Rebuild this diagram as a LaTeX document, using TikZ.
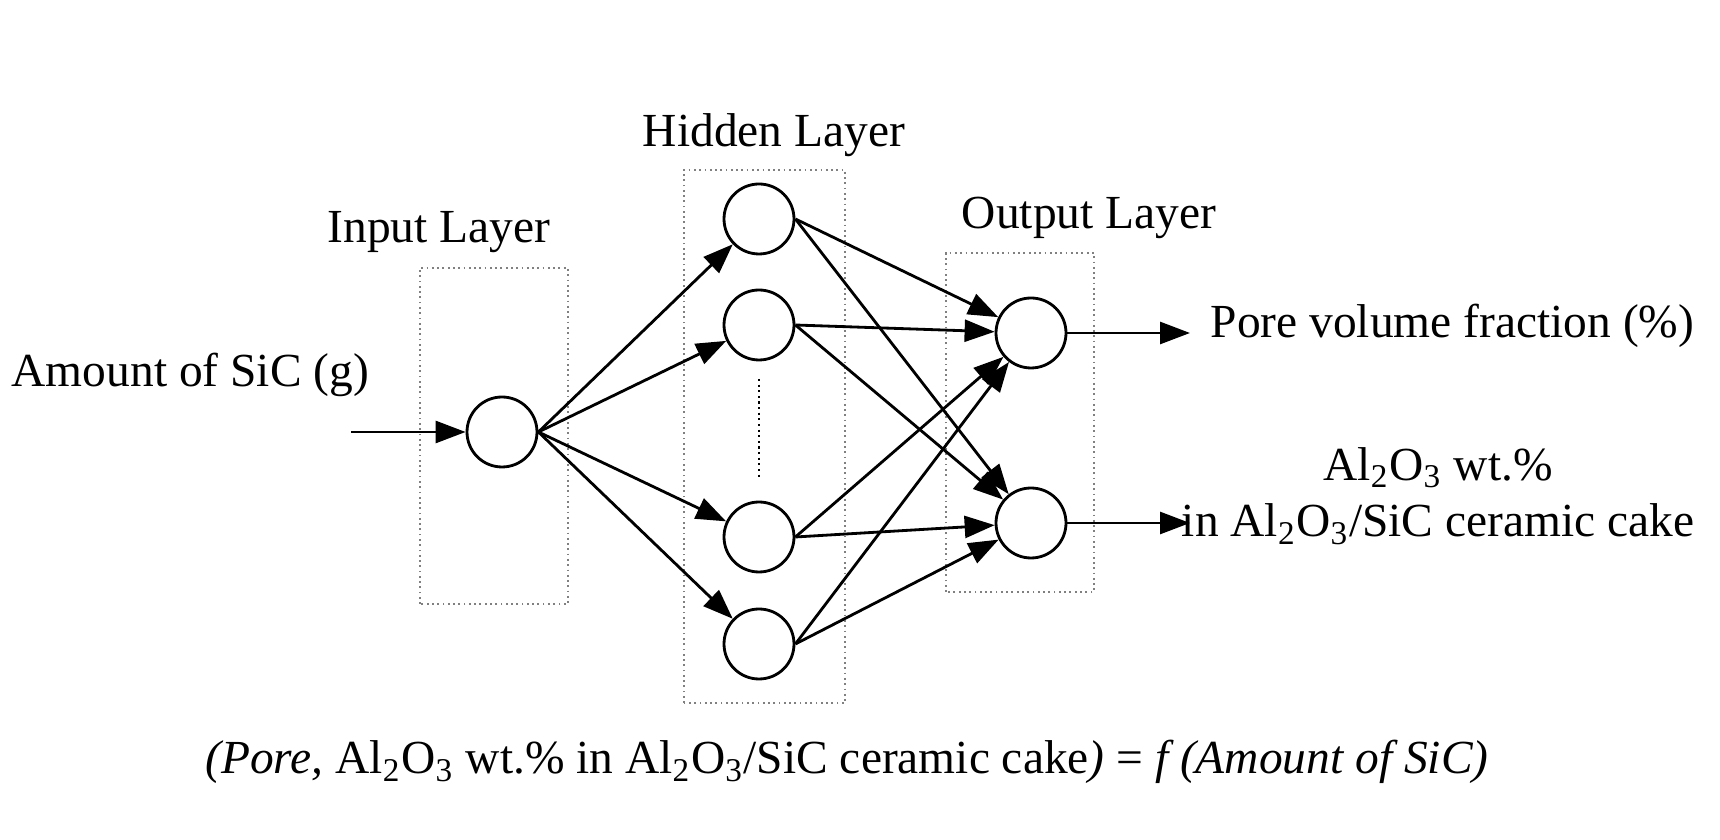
\documentclass[tikz,border=0pt]{standalone}
\usepackage{fontspec}
\setmainfont{Liberation Serif}
\usetikzlibrary{arrows.meta}

\begin{document}
\begin{tikzpicture}[
    font=\fontsize{13.5}{16}\selectfont,
    neuron/.style={circle, draw, line width=0.8pt, minimum size=0.7cm, inner sep=0pt},
    layerbox/.style={draw=gray, densely dotted, line width=0.5pt},
    link/.style={line width=0.8pt, -{Triangle[length=0.3cm,width=0.22cm]}}]

\useasboundingbox (0,0) rectangle (17.2,8.4);

% layer boxes
\draw[layerbox] (4.20,2.36) rectangle (5.68,5.72);
\draw[layerbox] (6.84,1.37) rectangle (8.45,6.70);
\draw[layerbox] (9.46,2.48) rectangle (10.94,5.87);

\node at (4.39,6.08) (inlabel) {Input Layer};
\node at (7.74,7.05) (hidlabel) {Hidden Layer};
\node at (10.89,6.22) (outlabel) {Output Layer};

% neurons
\node[neuron] (in) at (5.02,4.08) {};

\node[neuron] (h1) at (7.59,6.21) {};
\node[neuron] (h2) at (7.59,5.15) {};
\node[neuron] (h3) at (7.59,3.03) {};
\node[neuron] (h4) at (7.59,1.96) {};

\node[neuron] (o1) at (10.31,5.07) {};
\node[neuron] (o2) at (10.31,3.17) {};

\draw[densely dotted, line width=0.6pt] (7.59,4.61) -- (7.59,3.61);

% input
\coordinate (src) at (3.51,4.08);
\node[anchor=west, inner sep=0pt] (xin) at (0.11,4.65) {Amount of SiC (g)};
\draw[link] (src) -- (in);

\foreach \h in {h1,h2,h3,h4}
    \draw[link] (in.east) -- (\h);

\foreach \h in {h1,h2,h3,h4}
    \foreach \o in {o1,o2}
        \draw[link] (\h.east) -- (\o);

% outputs
\coordinate (end1) at (11.90,5.07);
\coordinate (end2) at (11.90,3.17);
\draw[link] (o1.east) -- (end1);
\draw[link] (o2.east) -- (end2);

\node[anchor=west, inner sep=0pt] (y1) at (12.10,5.14) {Pore volume fraction (\%)};
\node[align=center, inner sep=0pt] (y2) at (14.38,3.44)
    {Al\textsubscript{2}O\textsubscript{3} wt.\%\\in Al\textsubscript{2}O\textsubscript{3}/SiC ceramic cake};

\node (formula) at (8.47,0.78) {\textit{(Pore,} Al\textsubscript{2}O\textsubscript{3} wt.\% in Al\textsubscript{2}O\textsubscript{3}/SiC ceramic cake\textit{)} = \textit{f (Amount of SiC)}};

\end{tikzpicture}
\end{document}
